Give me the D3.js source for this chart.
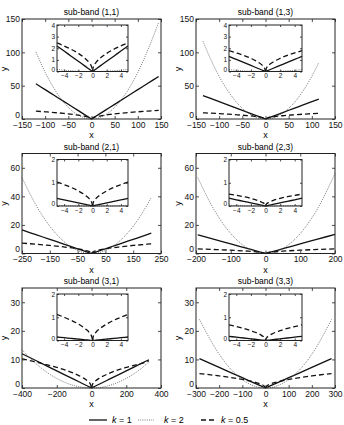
<!DOCTYPE html>
<html><head><meta charset="utf-8">
<script src="https://cdn.jsdelivr.net/npm/d3@7"></script>
<style>body{margin:0;background:#fff}svg{display:block;font-family:"Liberation Sans",Arial,sans-serif}</style>
</head><body><svg id="c" width="344" height="425"></svg>
<script>
const titles = ["sub-band (1,1)","sub-band (1,3)","sub-band (2,1)","sub-band (2,3)","sub-band (3,1)","sub-band (3,3)"];
const xDomains = [[-150,150],[-150,150],[-250,250],[-200,200],[-400,400],[-300,300]];
const yDomains = [[0,150],[0,150],[0,70],[0,70],[0,35],[0,35]];
const xTickVals = [
  [-150,-100,-50,0,50,100,150],[-150,-100,-50,0,50,100,150],
  [-250,-150,-50,50,150,250],[-200,-100,0,100,200],
  [-400,-200,0,200,400],[-300,-200,-100,0,100,200,300]];
const yTickVals = [[0,50,100,150],[0,50,100,150],[0,20,40,60],[0,20,40,60],[0,10,20,30],[0,10,20,30]];
const insetYDomains = [[0,4],[0,4],[0,2],[0,2],[0,2],[0,2]];
const insetYTicks = [[0,1,2,3,4],[0,1,2,3,4],[0,1,2],[0,1,2],[0,1,2],[0,1,2]];
const insetXTicks = [-4,-2,0,2,4];

// main-plot samples (x) and curves
const mainX = [
  [-120,-100,-80,-60,-40,-20,-5,0,5,20,40,60,80,100,120,145],
  [-135,-120,-100,-80,-60,-40,-20,-5,0,5,20,40,60,80,100,115],
  [-250,-200,-150,-100,-50,-20,-5,0,5,20,50,100,150,200,215],
  [-195,-150,-100,-50,-20,-5,0,5,20,50,100,150,200],
  [-400,-300,-200,-100,-50,-20,-5,0,5,20,50,100,200,300,330],
  [-285,-200,-150,-100,-50,-20,-5,0,5,20,50,100,150,200,285]];
const mainK1 = [
  [52.8,44,35.2,26.4,17.6,8.8,2.2,0,2.2,8.8,17.6,26.4,35.2,44,52.8,63.8],
  [35.1,31.2,26,20.8,15.6,10.4,5.2,1.3,0,1.3,5.2,10.4,15.6,20.8,26,29.9],
  [16.5,13.2,9.9,6.6,3.3,1.32,0.33,0,0.33,1.32,3.3,6.6,9.9,13.2,14.2],
  [13.1,10.05,6.7,3.35,1.34,0.34,0,0.34,1.34,3.35,6.7,10.05,13.4],
  [12,9,6,3,1.5,0.6,0.15,0,0.15,0.6,1.5,3,6,9,9.9],
  [10.3,7.2,5.4,3.6,1.8,0.72,0.18,0,0.18,0.72,1.8,3.6,5.4,7.2,10.3]];
const mainK2 = [
  [100.8,70,44.8,25.2,11.2,2.8,0.18,0,0.18,2.8,11.2,25.2,44.8,70,100.8,145],
  [116.6,92.2,64,41,23,10.2,2.6,0.16,0,0.16,2.6,10.2,23,41,64,84.6],
  [53.1,34,19.1,8.5,2.1,0.34,0.02,0,0.02,0.34,2.1,8.5,19.1,34,39.3],
  [53.2,31.5,14,3.5,0.56,0.035,0,0.035,0.56,3.5,14,31.5,56],
  [13.4,7.5,3.35,0.84,0.21,0.033,0.002,0,0.002,0.033,0.21,0.84,3.35,7.5,9.1],
  [24,11.8,6.6,2.95,0.74,0.12,0.007,0,0.007,0.12,0.74,2.95,6.6,11.8,24]];
const mainK05 = [
  [11.8,10.8,9.7,8.4,6.8,4.8,2.4,0,2.4,4.8,6.8,8.4,9.7,10.8,11.8,13],
  [9.3,8.8,8,7.2,6.2,5.1,3.6,1.8,0,1.8,3.6,5.1,6.2,7.2,8,8.6],
  [7.27,6.5,5.63,4.6,3.25,2.06,1.03,0,1.03,2.06,3.25,4.6,5.63,6.5,6.75],
  [3.21,2.82,2.3,1.63,1.03,0.51,0,0.51,1.03,1.63,2.3,2.82,3.25],
  [10.2,8.83,7.21,5.1,3.6,2.28,1.14,0,1.14,2.28,3.6,5.1,7.21,8.83,9.5],
  [5.06,4.24,3.67,3,2.12,1.34,0.67,0,0.67,1.34,2.12,3,3.67,4.24,5.06]];

// inset samples
const insetX = [-5,-4,-3,-2,-1,-0.5,-0.1,0,0.1,0.5,1,2,3,4,5];
const insetK1 = [
  [2.2,1.76,1.32,0.88,0.44,0.22,0.044,0,0.044,0.22,0.44,0.88,1.32,1.76,2.2],
  [1.3,1.04,0.78,0.52,0.26,0.13,0.026,0,0.026,0.13,0.26,0.52,0.78,1.04,1.3],
  [0.33,0.264,0.198,0.132,0.066,0.033,0.0066,0,0.0066,0.033,0.066,0.132,0.198,0.264,0.33],
  [0.335,0.268,0.2,0.134,0.067,0.034,0.0067,0,0.0067,0.034,0.067,0.134,0.2,0.268,0.335],
  [0.15,0.12,0.09,0.06,0.03,0.015,0.003,0,0.003,0.015,0.03,0.06,0.09,0.12,0.15],
  [0.18,0.144,0.108,0.072,0.036,0.018,0.0036,0,0.0036,0.018,0.036,0.072,0.108,0.144,0.18]];
const insetK2 = [
  [0.175,0.112,0.063,0.028,0.007,0.002,0,0,0,0.002,0.007,0.028,0.063,0.112,0.175],
  [0.16,0.1,0.058,0.026,0.0064,0.0016,0,0,0,0.0016,0.0064,0.026,0.058,0.1,0.16],
  [0.021,0.014,0.0077,0.0034,0.00085,0,0,0,0,0,0.00085,0.0034,0.0077,0.014,0.021],
  [0.035,0.022,0.0126,0.0056,0.0014,0,0,0,0,0,0.0014,0.0056,0.0126,0.022,0.035],
  [0.002,0.0013,0.0008,0.0003,0,0,0,0,0,0,0,0.0003,0.0008,0.0013,0.002],
  [0.0074,0.0047,0.0027,0.0012,0.0003,0,0,0,0,0,0.0003,0.0012,0.0027,0.0047,0.0074]];
const insetK05 = [
  [2.46,2.2,1.91,1.56,1.1,0.78,0.35,0,0.35,0.78,1.1,1.56,1.91,2.2,2.46],
  [1.79,1.6,1.39,1.13,0.8,0.57,0.25,0,0.25,0.57,0.8,1.13,1.39,1.6,1.79],
  [1.03,0.92,0.8,0.65,0.46,0.33,0.145,0,0.145,0.33,0.46,0.65,0.8,0.92,1.03],
  [0.51,0.46,0.4,0.33,0.23,0.16,0.073,0,0.073,0.16,0.23,0.33,0.4,0.46,0.51],
  [1.12,1.0,0.87,0.71,0.5,0.36,0.16,0,0.16,0.36,0.5,0.71,0.87,1.0,1.12],
  [0.67,0.6,0.52,0.42,0.3,0.21,0.095,0,0.095,0.21,0.3,0.42,0.52,0.6,0.67]];

const legendLabels = ["1","2","0.5"];

const svg = d3.select("#c");
const styles = [
  {stroke:"#111", width:1.3, dash:null},
  {stroke:"#555", width:0.8, dash:"1,1.2"},
  {stroke:"#111", width:1.3, dash:"5,3"}];
const fmt = d3.format("d");

function drawCurve(g, xs, ys, sx, sy, st) {
  const pts = xs.map((x,i)=>[x,ys[i]]);
  const left = pts.filter(p=>p[0]<=0), right = pts.filter(p=>p[0]>=0);
  const line = d3.line().x(p=>sx(p[0])).y(p=>sy(p[1])).curve(d3.curveMonotoneX);
  [left,right].forEach(br=>{
    if (br.length<2) return;
    const p = g.append("path").attr("d", line(br)).attr("fill","none")
      .attr("stroke", st.stroke).attr("stroke-width", st.width);
    if (st.dash) p.attr("stroke-dasharray", st.dash);
  });
}

function boxAxes(g, sx, sy, xt, yt, fs, tick, xpad, zeroLift) {
  const [x0,x1] = sx.range(), [y0,y1] = sy.range();
  const ax = [
    [d3.axisBottom(sx).tickValues(xt).tickFormat(fmt), `translate(0,${y0})`, true, xpad, false],
    [d3.axisTop(sx).tickValues(xt).tickFormat(""), `translate(0,${y1})`, false, 2, false],
    [d3.axisLeft(sy).tickValues(yt).tickFormat(fmt), `translate(${x0},0)`, true, 2, true],
    [d3.axisRight(sy).tickValues(yt).tickFormat(""), `translate(${x1},0)`, false, 2, false]];
  ax.forEach(([a,t,lab,pad,isY])=>{
    a.tickSizeInner(-tick).tickSizeOuter(0).tickPadding(pad);
    const gg = g.append("g").attr("transform", t).call(a);
    gg.select(".domain").remove();
    gg.selectAll("line").attr("stroke","#222").attr("stroke-width",0.8);
    gg.selectAll("text").attr("font-size", fs).attr("fill","#111")
      .attr("font-family","Liberation Sans, Arial, sans-serif");
    if (isY) gg.selectAll("text").filter(d=>d===0).attr("y", -zeroLift);
    if (!lab) gg.selectAll("text").remove();
  });
  g.append("rect").attr("x",x0).attr("y",y1).attr("width",x1-x0).attr("height",y0-y1)
    .attr("fill","none").attr("stroke","#222").attr("stroke-width",1);
}

const colL = [22,196], colR = [161,335];
const insL = [57,229], insR = [128,302];

titles.forEach((title,i)=>{
  const col = i%2, row = Math.floor(i/2);
  const top = 19 + row*134.5, bottom = top + 100;
  const g = svg.append("g");
  const sx = d3.scaleLinear().domain(xDomains[i]).range([colL[col], colR[col]]);
  const sy = d3.scaleLinear().domain(yDomains[i]).range([bottom, top]);
  const cx = (colL[col]+colR[col])/2;
  g.append("text").attr("x",cx).attr("y",top-4).attr("text-anchor","middle")
    .attr("font-size",8.5).text(title);
  g.append("text").attr("x",cx).attr("y",bottom+19).attr("text-anchor","middle")
    .attr("font-size",9).text("x");
  g.append("text").attr("transform",`translate(${colL[col]-15},${(top+bottom)/2}) rotate(-90)`)
    .attr("text-anchor","middle").attr("font-size",9).text("y");
  const data = [mainK1[i], mainK2[i], mainK05[i]];
  data.forEach((ys,k)=>drawCurve(g, mainX[i], ys, sx, sy, styles[k]));
  boxAxes(g, sx, sy, xTickVals[i], yTickVals[i], 8.5, 3, 2.5, 4.5);

  // inset
  const it = top + 6, ib = it + 46.5;
  const ix = d3.scaleLinear().domain([-5,5]).range([insL[col], insR[col]]);
  const iy = d3.scaleLinear().domain(insetYDomains[i]).range([ib, it]);
  g.append("rect").attr("x",insL[col]).attr("y",it).attr("width",insR[col]-insL[col])
    .attr("height",ib-it).attr("fill","#fff");
  const idata = [insetK1[i], insetK2[i], insetK05[i]];
  const ig = g.append("g");
  idata.forEach((ys,k)=>drawCurve(ig, insetX, ys, ix, iy, styles[k]));
  boxAxes(g, ix, iy, insetXTicks, insetYTicks[i], 6.5, 2, 2, 2.5);
});

// legend
const ly = 420;
const legItems = [[89,107,112],[138,154,164],[201,214,221]];
legItems.forEach(([a,b,t],k)=>{
  const l = svg.append("line").attr("x1",a).attr("x2",b).attr("y1",ly).attr("y2",ly)
    .attr("stroke",styles[k].stroke).attr("stroke-width",styles[k].width);
  if (styles[k].dash) l.attr("stroke-dasharray", styles[k].dash);
  const tx = svg.append("text").attr("x",t).attr("y",ly+3).attr("font-size",9);
  tx.append("tspan").attr("font-style","italic").text("k");
  tx.append("tspan").text(" = " + legendLabels[k]);
});
</script></body></html>
